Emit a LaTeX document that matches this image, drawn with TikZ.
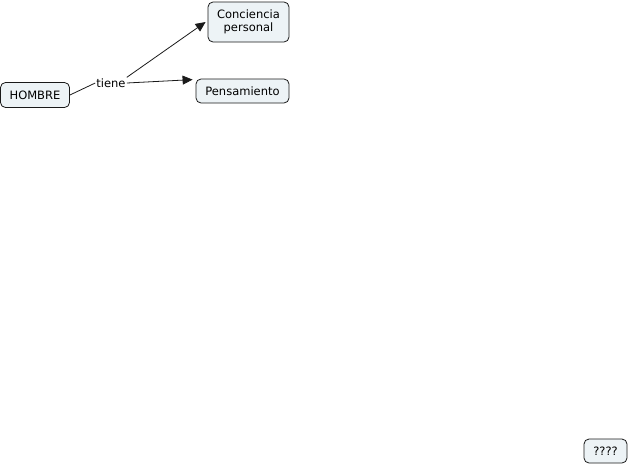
\documentclass[tikz,border=0pt]{standalone}
\usepackage{fontspec}
\setmainfont{DejaVu Sans}
\usetikzlibrary{arrows.meta,positioning}
\definecolor{cfill}{HTML}{EDF3F6}
\definecolor{cline}{HTML}{1A1A1A}
\tikzset{
  concept/.style={draw=cline,fill=cfill,rounded corners=5pt,align=center,inner xsep=7pt,inner ysep=4pt,line width=0.8pt,font=\fontsize{11.5}{13}\selectfont},
  linklabel/.style={inner sep=1pt,font=\fontsize{11.5}{13}\selectfont},
  ln/.style={draw=cline,line width=0.8pt},
  ar/.style={ln,-{Triangle[length=10pt,width=9pt]}},
}
\begin{document}
\begin{tikzpicture}[x=1pt,y=-1pt]
\useasboundingbox (0,0) rectangle (628,464);
\node[concept,minimum width=69pt,minimum height=25pt] (hombre) at (35,95) {HOMBRE};
\node[linklabel] (tiene) at (111,83) {tiene};
\node[concept,minimum width=81pt,minimum height=40pt] (conc) at (248.5,22) {Conciencia\\personal};
\node[concept,minimum width=93pt,minimum height=24pt] (pens) at (242.5,91) {Pensamiento};
\node[concept,minimum width=43pt,minimum height=24pt] (q) at (605.5,451) {????};
\draw[ln] (hombre.east) -- (tiene.west);
\draw[ar] (tiene.north east) -- ([xshift=-2pt]conc.west);
\draw[ar] (tiene.east) -- ([xshift=-3pt,yshift=-1pt]pens.north west);
\end{tikzpicture}
\end{document}
